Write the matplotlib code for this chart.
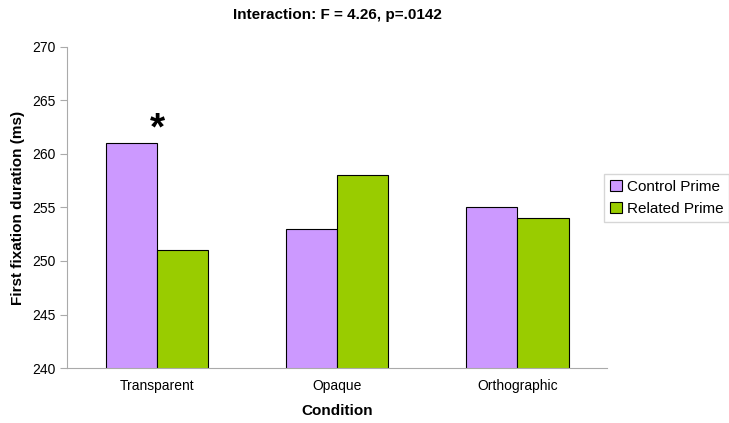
import numpy as np
from matplotlib import pyplot as plt

plt.rcParams['font.family'] = ['Liberation Sans', 'DejaVu Sans']

# data
conditions = ['Transparent', 'Opaque', 'Orthographic']
control = [261, 253, 255]
related = [251, 258, 254]

fig = plt.figure(figsize=(7.29, 4.23), dpi=100)
ax = fig.add_axes([0.092, 0.130, 0.741, 0.759])

x = np.arange(len(conditions))
w = 0.285
ax.bar(x - w/2, control, w, color='#CC99FF', edgecolor='black', linewidth=0.8,
       label='Control Prime')
ax.bar(x + w/2, related, w, color='#99CC00', edgecolor='black', linewidth=0.8,
       label='Related Prime')

ax.set_ylim(240, 270)
ax.set_xlim(-0.5, 2.5)
ax.set_yticks(range(240, 271, 5))
ax.set_xticks(x)
ax.set_xticklabels(conditions)
ax.tick_params(axis='x', length=0, labelsize=10, pad=8)
ax.tick_params(axis='y', direction='out', length=5, color='#aaaaaa', labelsize=10)

for s in ['top', 'right']:
    ax.spines[s].set_visible(False)
for s in ['left', 'bottom']:
    ax.spines[s].set_color('#aaaaaa')

ax.text(x[0], 262.3, '*', ha='center', va='center', fontsize=28, fontweight='bold')

ax.set_title('Interaction: F = 4.26, p=.0142', fontsize=11, fontweight='bold', pad=20)
ax.set_xlabel('Condition', fontsize=11, fontweight='bold', labelpad=8)
ax.set_ylabel('First fixation duration (ms)', fontsize=11, fontweight='bold', labelpad=5)

ax.legend(loc='center left', bbox_to_anchor=(0.985, 0.53), frameon=True, fancybox=False,
          edgecolor='#cccccc', fontsize=11, handlelength=0.8, handletextpad=0.3,
          borderaxespad=0.3)

plt.savefig('out.png', dpi=100)
